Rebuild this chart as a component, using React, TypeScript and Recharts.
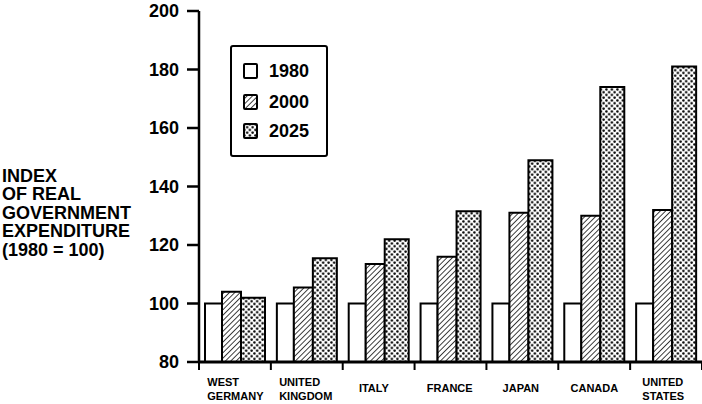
import { Bar, BarChart, XAxis, YAxis } from "recharts";

const countries = ["WEST GERMANY", "UNITED KINGDOM", "ITALY", "FRANCE", "JAPAN", "CANADA", "UNITED STATES"];
const years = ["1980", "2000", "2025"];
const values1980 = [100, 100, 100, 100, 100, 100, 100];
const values2000 = [104, 105.5, 113.5, 116, 131, 130, 132];
const values2025 = [102, 115.5, 122, 131.5, 149, 174, 181];
const yTicks = [80, 100, 120, 140, 160, 180, 200];
const yLabel = ["INDEX", "OF REAL", "GOVERNMENT", "EXPENDITURE", "(1980 = 100)"];

const data = countries.map((name, i) => ({
  name,
  y1980: values1980[i],
  y2000: values2000[i],
  y2025: values2025[i],
}));

const FONT = "'Liberation Sans', Arial, Helvetica, sans-serif";
const W = 702;
const H = 404;
const PLOT_LEFT = 199;
const BAND = (W - PLOT_LEFT) / countries.length;

const fills = ["#fff", "url(#hatch)", "url(#dots)"];

function CountryTick(props: any) {
  const { x, y, payload, index } = props;
  const lines: string[] = payload.value.split(" ");
  const width = Math.max(...lines.map((l) => l.length)) * 7.9;
  const left = x - width / 2;
  const first = lines.length > 1 ? y + 24 : y + 30;
  return (
    <g>
      <line x1={x - BAND / 2} x2={x - BAND / 2} y1={y} y2={y + 8} stroke="#000" strokeWidth={2} />
      {index === countries.length - 1 && (
        <line x1={x + BAND / 2} x2={x + BAND / 2} y1={y} y2={y + 8} stroke="#000" strokeWidth={2} />
      )}
      {lines.map((l, i) => (
        <text
          key={l}
          x={left}
          y={first + i * 14}
          fontSize={11}
          fontWeight={700}
          fontFamily={FONT}
          fill="#000"
        >
          {l}
        </text>
      ))}
    </g>
  );
}

function Swatch({ fill }: { fill: string }) {
  return (
    <svg width={15} height={16} style={{ display: "block" }}>
      <rect x={1} y={1} width={13} height={14} fill={fill} stroke="#000" strokeWidth={2} rx={1} />
    </svg>
  );
}

export default function App() {
  return (
    <div style={{ position: "absolute", left: 0, top: 0, width: W, height: H, background: "#fff" }}>
      <svg width={0} height={0} style={{ position: "absolute" }}>
        <defs>
          <pattern id="hatch" width={3.8} height={3.8} patternUnits="userSpaceOnUse" patternTransform="rotate(45)">
            <rect width={3.8} height={3.8} fill="#fff" />
            <line x1={0} y1={0} x2={0} y2={3.8} stroke="#000" strokeWidth={1.5} />
          </pattern>
          <pattern id="dots" width={5.5} height={5.5} patternUnits="userSpaceOnUse">
            <rect width={5.5} height={5.5} fill="#fff" />
            <circle cx={1.4} cy={1.4} r={1.25} fill="#000" />
            <circle cx={4.15} cy={4.15} r={1.25} fill="#000" />
          </pattern>
        </defs>
      </svg>

      <BarChart
        width={W}
        height={H}
        data={data}
        barGap={0}
        margin={{ top: 11, right: 0, bottom: 0, left: PLOT_LEFT - 60 }}
      >
        <XAxis
          dataKey="name"
          interval={0}
          height={42}
          tickSize={0}
          tickMargin={0}
          tickLine={false}
          axisLine={{ stroke: "#000", strokeWidth: 3 }}
          tick={<CountryTick />}
        />
        <YAxis
          domain={[80, 200]}
          ticks={yTicks}
          interval={0}
          width={60}
          tickSize={12}
          tickMargin={8}
          axisLine={{ stroke: "#000", strokeWidth: 2.5 }}
          tickLine={{ stroke: "#000", strokeWidth: 2.5 }}
          tick={{ fill: "#000", fontSize: 18, fontWeight: 700, fontFamily: FONT }}
        />
        <Bar dataKey="y1980" barSize={17} fill={fills[0]} stroke="#000" strokeWidth={2} isAnimationActive={false} />
        <Bar dataKey="y2000" barSize={19} fill={fills[1]} stroke="#000" strokeWidth={2} isAnimationActive={false} />
        <Bar dataKey="y2025" barSize={24} fill={fills[2]} stroke="#000" strokeWidth={2} isAnimationActive={false} />
      </BarChart>

      <div
        style={{
          position: "absolute",
          left: 2,
          top: 166.5,
          fontFamily: FONT,
          fontSize: 18,
          fontWeight: 700,
          lineHeight: "18.5px",
          color: "#000",
          whiteSpace: "nowrap",
        }}
      >
        {yLabel.map((l) => (
          <div key={l}>{l}</div>
        ))}
      </div>

      <div
        style={{
          position: "absolute",
          left: 230,
          top: 45,
          width: 98,
          height: 112,
          boxSizing: "border-box",
          border: "2.5px solid #000",
          borderRadius: 3,
          background: "#fff",
          fontFamily: FONT,
          fontSize: 18,
          fontWeight: 700,
          color: "#000",
        }}
      >
        {years.map((yr, i) => (
          <div
            key={yr}
            style={{
              position: "absolute",
              left: 11,
              top: [13, 44, 73][i],
              height: 22,
              display: "flex",
              alignItems: "center",
              gap: 11,
            }}
          >
            <Swatch fill={fills[i]} />
            <span>{yr}</span>
          </div>
        ))}
      </div>
    </div>
  );
}
